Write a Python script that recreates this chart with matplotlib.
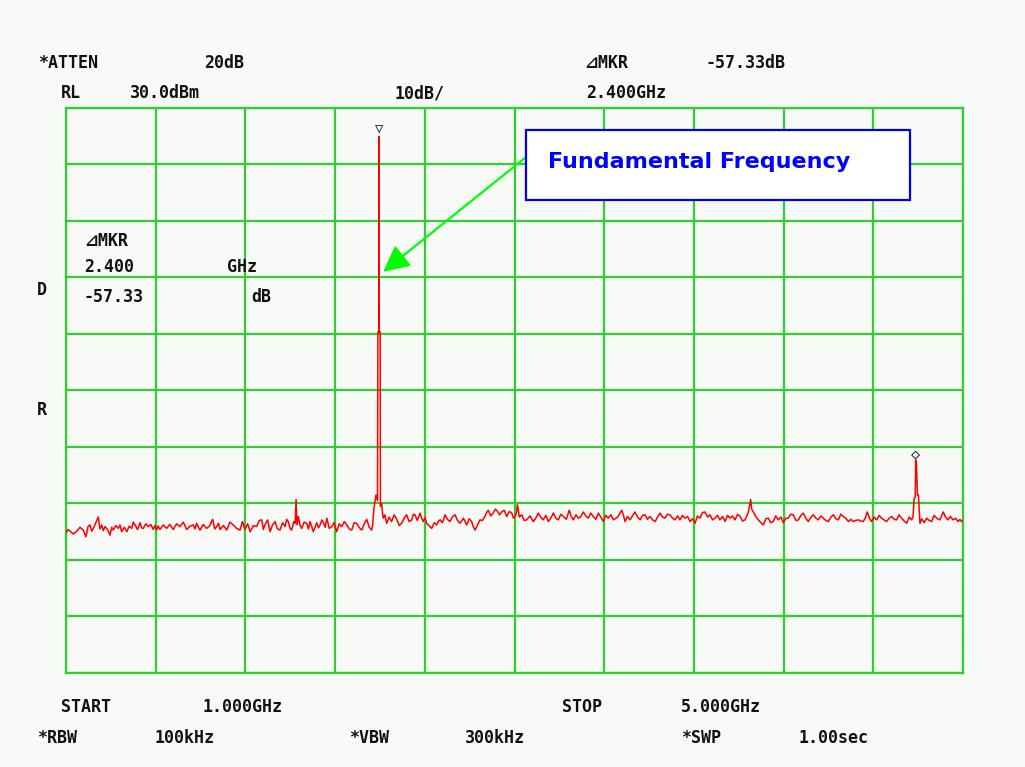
import matplotlib.pyplot as plt

# Trace: (frequency GHz, level dBm)
trace_low = [
    (1.000, -45.2), (1.009, -44.6), (1.018, -44.9), (1.033, -45.4), (1.048, -44.9),
    (1.062, -44.2), (1.077, -44.7), (1.089, -45.9), (1.098, -44.1), (1.107, -43.8),
    (1.115, -44.9), (1.122, -44.4), (1.133, -43.4), (1.144, -42.4), (1.151, -44.5),
    (1.159, -43.8), (1.166, -44.8), (1.174, -44.1), (1.185, -44.6), (1.196, -45.6),
    (1.204, -44.2), (1.211, -44.7), (1.222, -43.9), (1.233, -44.4), (1.241, -43.8),
    (1.248, -45.0), (1.260, -44.2), (1.271, -45.0), (1.282, -44.0), (1.293, -44.4),
    (1.300, -43.3), (1.308, -43.8), (1.319, -44.6), (1.330, -43.4), (1.337, -44.3),
    (1.345, -44.4), (1.356, -43.6), (1.367, -44.1), (1.378, -43.7), (1.389, -44.6),
    (1.396, -43.9), (1.404, -44.7), (1.411, -44.0), (1.419, -44.6), (1.434, -43.8),
    (1.449, -44.4), (1.463, -43.7), (1.478, -44.6), (1.493, -43.6), (1.508, -44.1),
    (1.523, -43.3), (1.538, -44.6), (1.553, -44.0), (1.568, -43.8), (1.575, -44.5),
    (1.583, -43.5), (1.590, -44.2), (1.598, -44.7), (1.612, -43.7), (1.627, -44.4),
    (1.640, -44.0), (1.654, -42.8), (1.663, -44.5), (1.672, -44.1), (1.680, -43.5),
    (1.687, -44.6), (1.702, -43.9), (1.717, -44.7), (1.731, -43.3), (1.746, -43.8),
    (1.761, -44.4), (1.776, -44.7), (1.787, -43.2), (1.798, -44.6), (1.810, -43.6),
    (1.821, -45.0), (1.836, -43.9), (1.850, -44.1), (1.862, -43.0), (1.873, -42.9),
    (1.880, -44.6), (1.887, -43.8), (1.899, -42.9), (1.910, -45.0), (1.921, -43.8),
    (1.932, -43.2), (1.943, -44.5), (1.954, -44.7), (1.966, -43.4), (1.977, -44.1),
    (1.984, -42.8), (1.991, -43.2), (1.999, -44.4), (2.006, -44.7), (2.016, -43.2),
    (2.022, -43.5), (2.026, -39.3), (2.030, -43.8), (2.036, -42.3), (2.044, -43.9),
    (2.051, -44.4), (2.062, -43.3), (2.073, -43.5), (2.081, -44.5), (2.088, -43.2),
    (2.096, -44.1), (2.103, -45.0), (2.111, -44.2), (2.118, -43.4), (2.126, -44.3),
    (2.133, -43.8), (2.141, -42.9), (2.148, -43.4), (2.156, -44.2), (2.163, -42.6),
    (2.174, -44.4), (2.185, -44.1), (2.196, -43.4), (2.207, -45.0), (2.218, -43.6),
    (2.229, -44.1), (2.241, -43.2), (2.252, -43.8), (2.263, -44.5), (2.274, -44.7),
    (2.285, -43.4), (2.296, -43.5), (2.308, -44.3), (2.319, -44.7), (2.330, -43.6),
    (2.341, -42.8), (2.352, -44.2), (2.363, -44.7), (2.368, -43.6), (2.373, -40.9),
    (2.382, -38.5), (2.389, -39.5),
]
# fundamental at 2.4 GHz
trace_peak = [
    (2.391, -9.6), (2.395, -9.6), (2.396, 25.0), (2.397, -9.6), (2.401, -9.6),
    (2.402, -40.5),
]
trace_mid = [
    (2.408, -40.0), (2.412, -42.0), (2.415, -42.6), (2.422, -42.0), (2.430, -43.5),
    (2.441, -42.4), (2.452, -43.2), (2.463, -42.0), (2.475, -42.8), (2.486, -43.9),
    (2.497, -43.5), (2.508, -42.6), (2.519, -42.0), (2.530, -43.2), (2.542, -42.9),
    (2.549, -41.9), (2.556, -42.0), (2.567, -43.0), (2.579, -41.7), (2.586, -42.6),
    (2.593, -43.2), (2.601, -42.5), (2.608, -43.5), (2.620, -44.0), (2.631, -44.4),
    (2.642, -43.4), (2.653, -43.8), (2.661, -43.1), (2.668, -42.9), (2.679, -43.4),
    (2.690, -42.0), (2.701, -42.8), (2.712, -43.2), (2.724, -42.3), (2.735, -42.0),
    (2.746, -43.0), (2.757, -43.5), (2.772, -42.6), (2.787, -43.8), (2.798, -42.7),
    (2.809, -43.2), (2.816, -44.1), (2.824, -44.7), (2.835, -43.8), (2.846, -42.9),
    (2.857, -43.0), (2.868, -42.3), (2.876, -41.6), (2.883, -41.2), (2.894, -42.2),
    (2.905, -41.7), (2.914, -41.0), (2.923, -41.3), (2.933, -42.0), (2.943, -41.5),
    (2.954, -41.2), (2.965, -42.3), (2.977, -41.4), (2.988, -41.7), (2.995, -42.6),
    (3.002, -42.3), (3.008, -41.8), (3.013, -40.2), (3.022, -42.4), (3.032, -42.0),
    (3.043, -43.0), (3.054, -42.9), (3.069, -42.2), (3.084, -43.2), (3.095, -42.6),
    (3.106, -41.7), (3.117, -42.4), (3.128, -42.9), (3.140, -42.1), (3.151, -43.2),
    (3.162, -42.6), (3.173, -41.7), (3.184, -42.6), (3.195, -42.9), (3.207, -41.9),
    (3.218, -42.3), (3.231, -42.8), (3.244, -41.2), (3.253, -42.3), (3.262, -42.9),
    (3.274, -42.0), (3.285, -42.6), (3.296, -42.3), (3.307, -41.5), (3.318, -42.2),
    (3.329, -42.6), (3.340, -41.7), (3.351, -42.3), (3.363, -42.8), (3.374, -41.7),
    (3.385, -42.4), (3.396, -43.2), (3.407, -42.1), (3.418, -42.6), (3.430, -42.0),
    (3.441, -42.9), (3.460, -42.4), (3.478, -41.2), (3.486, -42.1), (3.493, -43.2),
    (3.504, -42.3), (3.515, -42.9), (3.526, -42.2), (3.537, -41.5), (3.549, -42.4),
    (3.560, -42.9), (3.571, -42.1), (3.582, -42.0), (3.593, -42.8), (3.604, -42.3),
    (3.616, -42.9), (3.627, -43.2), (3.638, -42.4), (3.649, -41.7), (3.660, -42.4),
    (3.671, -42.6), (3.682, -41.9), (3.693, -42.0), (3.705, -42.6), (3.716, -42.9),
]
trace_high = [
    (3.727, -42.2), (3.738, -42.9), (3.749, -42.1), (3.760, -42.6), (3.772, -42.3),
    (3.783, -43.2), (3.794, -42.7), (3.805, -43.5), (3.816, -42.2), (3.827, -42.6),
    (3.838, -41.6), (3.849, -41.5), (3.861, -42.4), (3.872, -42.0), (3.883, -42.9),
    (3.894, -42.6), (3.905, -42.1), (3.916, -42.9), (3.928, -42.3), (3.939, -43.2),
    (3.950, -42.1), (3.961, -42.6), (3.972, -42.2), (3.983, -42.9), (3.995, -41.9),
    (4.006, -42.3), (4.017, -43.1), (4.028, -42.9), (4.036, -42.2), (4.043, -41.5),
    (4.053, -39.3), (4.058, -41.0), (4.065, -41.5), (4.076, -42.3), (4.087, -42.9),
    (4.099, -43.4), (4.110, -43.8), (4.121, -42.7), (4.132, -42.6), (4.143, -43.4),
    (4.154, -43.2), (4.165, -42.2), (4.176, -42.9), (4.188, -42.4), (4.199, -43.4),
    (4.210, -42.6), (4.221, -42.6), (4.232, -41.9), (4.243, -42.0), (4.255, -43.0),
    (4.266, -42.9), (4.277, -42.1), (4.288, -41.7), (4.299, -42.6), (4.310, -43.2),
    (4.322, -42.4), (4.333, -42.0), (4.344, -42.6), (4.355, -42.9), (4.366, -42.2),
    (4.377, -42.6), (4.388, -43.0), (4.399, -43.2), (4.411, -42.4), (4.422, -42.0),
    (4.433, -42.7), (4.444, -42.9), (4.455, -41.9), (4.466, -42.3), (4.477, -42.6),
    (4.489, -43.2), (4.500, -42.8), (4.511, -43.2), (4.522, -43.0), (4.533, -42.9),
    (4.544, -43.1), (4.555, -43.2), (4.564, -42.6), (4.573, -41.5), (4.583, -42.6),
    (4.592, -43.2), (4.604, -42.4), (4.615, -42.9), (4.626, -42.1), (4.637, -42.6),
    (4.648, -42.9), (4.659, -43.2), (4.671, -42.6), (4.682, -42.3), (4.693, -42.8),
    (4.704, -42.9), (4.715, -42.0), (4.726, -42.6), (4.738, -43.1), (4.749, -43.5),
    (4.760, -42.4), (4.771, -42.9), (4.777, -42.4),
    # second harmonic near 4.8 GHz
    (4.782, -39.1), (4.787, -38.9), (4.789, -32.3), (4.792, -32.6), (4.797, -38.5),
    (4.801, -38.5), (4.808, -43.5),
    (4.816, -42.7), (4.827, -43.4), (4.838, -42.6), (4.849, -43.0), (4.860, -43.2),
    (4.871, -42.1), (4.882, -42.6), (4.897, -42.9), (4.912, -41.5), (4.922, -42.4),
    (4.932, -42.9), (4.944, -42.3), (4.955, -42.9), (4.967, -42.6), (4.978, -43.2),
    (4.986, -42.8), (4.993, -43.2), (5.000, -43.0),
]

start_ghz, stop_ghz = 1.0, 5.0
ref_level, db_per_div = 30.0, 10.0
marker_ghz, marker_dbm = 2.396, 25.0
harm_ghz, harm_dbm = 4.790, -32.3

trace = trace_low + trace_peak + trace_mid + trace_high
freq_ghz = [p[0] for p in trace]
level_dbm = [p[1] for p in trace]

bg = '#F7FAF7'
grid_green = '#33CC33'
mono = ['DejaVu Sans Mono', 'DejaVu Sans']

fig = plt.figure(figsize=(10.25, 7.67), dpi=100, facecolor=bg)
ax = fig.add_axes([66 / 1025, 1 - 673 / 767, 897 / 1025, 565 / 767])
ax.set_facecolor(bg)

ax.set_xlim(start_ghz, stop_ghz)
ax.set_ylim(ref_level - 10 * db_per_div, ref_level)
step = (stop_ghz - start_ghz) / 10
ax.set_xticks([start_ghz + i * step for i in range(11)])
ax.set_yticks([ref_level - i * db_per_div for i in range(11)])
ax.tick_params(length=0, labelbottom=False, labelleft=False)
ax.grid(True, color=grid_green, linewidth=1.6)
for s in ax.spines.values():
    s.set_color(grid_green)
    s.set_linewidth(1.6)

ax.plot(freq_ghz, level_dbm, color='#FF0000', linewidth=1.1, zorder=3)

# marker symbols above the two peaks
ax.annotate('▽', xy=(marker_ghz, marker_dbm), xytext=(0, 0), textcoords='offset points',
            ha='center', va='bottom', fontsize=10, color='#222222', family=mono)
ax.annotate('◇', xy=(harm_ghz, harm_dbm), xytext=(0, -1), textcoords='offset points',
            ha='center', va='bottom', fontsize=11, color='#222222', family=mono)

# callout
ax.add_patch(plt.Rectangle((0.5128, 0.837), 0.4281, 0.124, transform=ax.transAxes,
                           facecolor='white', edgecolor='#0000EE', linewidth=1.6, zorder=5))
ax.text(0.537, 0.905, 'Fundamental Frequency', transform=ax.transAxes, color='#0000FF',
        fontsize=16, fontweight='bold', va='center', ha='left', zorder=6)
ax.annotate('', xy=(2.414, 1.0), xytext=(3.051, 21.3),
            arrowprops=dict(arrowstyle='-|>,head_length=1.6,head_width=0.8',
                            color='#00FF00', linewidth=1.6, shrinkA=0, shrinkB=0),
            zorder=4)

txt = dict(family=mono, fontweight='bold', fontsize=12, color='#111111', va='center', ha='left')


def ftext(x, y, s):
    fig.text(x / 1025, 1 - y / 767, s, **txt)


# header
ftext(38, 63, '*ATTEN')
ftext(204, 63, '20dB')
ftext(584, 63, '⊿MKR')
ftext(705, 63, '-57.33dB')
ftext(61, 93, 'RL')
ftext(130, 93, '30.0dBm')
ftext(394, 93, '10dB/')
ftext(586, 93, '2.400GHz')

# side letters
ftext(37, 290, 'D')
ftext(37, 410, 'R')

# marker readout inside the graticule
ftext(84, 241, '⊿MKR')
ftext(84, 267, '2.400')
ftext(227, 267, 'GHz')
ftext(84, 297, '-57.33')
ftext(251, 297, 'dB')

# footer
ftext(61, 707, 'START')
ftext(203, 707, '1.000GHz')
ftext(562, 707, 'STOP')
ftext(681, 707, '5.000GHz')
ftext(37, 738, '*RBW')
ftext(154, 738, '100kHz')
ftext(349, 738, '*VBW')
ftext(465, 738, '300kHz')
ftext(681, 738, '*SWP')
ftext(799, 738, '1.00sec')

fig.savefig('out.png', dpi=100, facecolor=bg)
